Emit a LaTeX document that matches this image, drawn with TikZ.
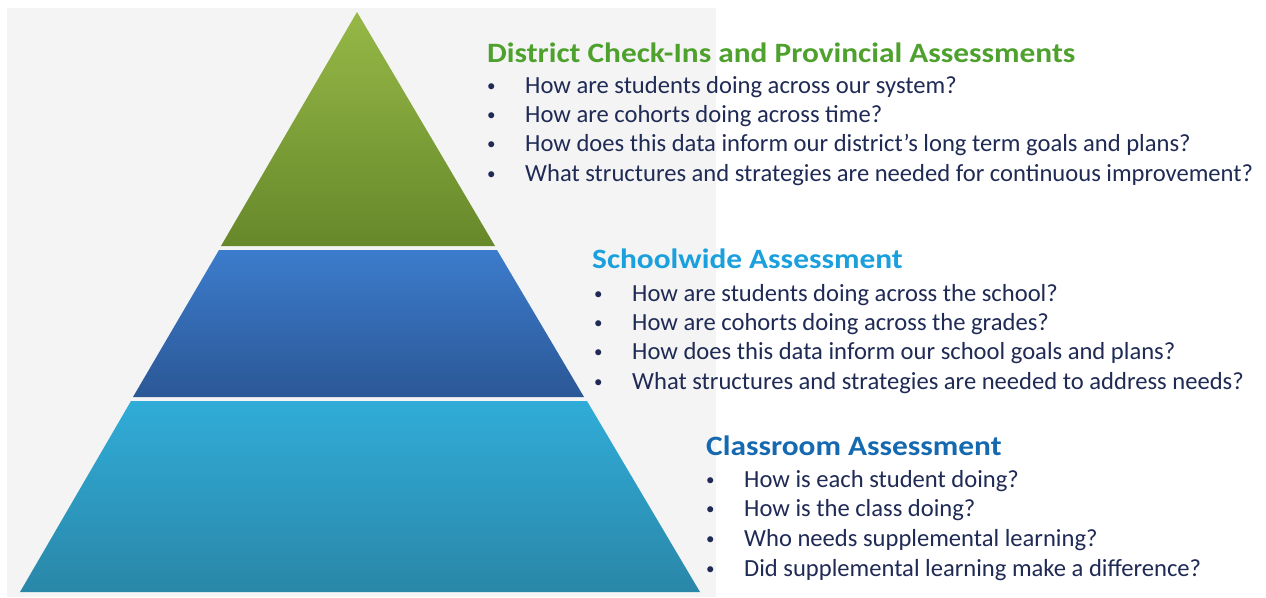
\documentclass[tikz,border=0pt]{standalone}
\usepackage{fontspec}
\setmainfont{Carlito}
\newfontfamily\headfont{Carlito}[FakeStretch=1.12]
\definecolor{bggray}{HTML}{F4F4F4}
\definecolor{greenhead}{HTML}{4FA12E}
\definecolor{skyhead}{HTML}{1AA0DC}
\definecolor{bluehead}{HTML}{1569B0}
\definecolor{navytext}{HTML}{1F2A55}
\definecolor{greentop}{HTML}{96B847}
\definecolor{greenbot}{HTML}{66882A}
\definecolor{bluetop}{HTML}{3C7CCC}
\definecolor{bluebot}{HTML}{2B5796}
\definecolor{tealtop}{HTML}{30ACD8}
\definecolor{tealbot}{HTML}{2A87A8}
\newcommand{\bul}{\makebox[38pt][l]{\raisebox{1.5pt}{\fontsize{17}{17}\selectfont\textbullet}}}
\begin{document}
\begin{tikzpicture}[x=1pt,y=-1pt,
    head/.style={anchor=base west,inner sep=0pt,font=\headfont\fontsize{28}{28}\selectfont\bfseries},
    ques/.style={anchor=base west,inner sep=0pt,text=navytext,font=\fontsize{24.6}{24.6}\selectfont}]
    \useasboundingbox (0,0) rectangle (1266,597);
    \fill[white] (0,0) rectangle (1266,597);
    \fill[bggray] (7,8) rectangle (716,597);
    % Pyramid tiers
    \shade[top color=greentop, bottom color=greenbot] (357,12) -- (495,246) -- (221,246) -- cycle;
    \shade[top color=bluetop, bottom color=bluebot] (219,250) -- (497,250) -- (584,397) -- (133,397) -- cycle;
    \shade[top color=tealtop, bottom color=tealbot] (131,401) -- (587,401) -- (700,592) -- (20,592) -- cycle;
    % District level
    \node[head,text=greenhead] (dhead) at (487,62) {District Check-Ins and Provincial Assessments};
    \node[ques] (d1) at (487,93) {\bul How are students doing across our system?};
    \node[ques] (d2) at (487,122) {\bul How are cohorts doing across time?};
    \node[ques] (d3) at (487,151) {\bul How does this data inform our district’s long term goals and plans?};
    \node[ques] (d4) at (487,181) {\bul What structures and strategies are needed for continuous improvement?};
    % School level
    \node[head,text=skyhead] (shead) at (592,268) {Schoolwide Assessment};
    \node[ques] (s1) at (594,301) {\bul How are students doing across the school?};
    \node[ques] (s2) at (594,330) {\bul How are cohorts doing across the grades?};
    \node[ques] (s3) at (594,359) {\bul How does this data inform our school goals and plans?};
    \node[ques] (s4) at (594,389) {\bul What structures and strategies are needed to address needs?};
    % Classroom level
    \node[head,text=bluehead] (chead) at (706,455) {Classroom Assessment};
    \node[ques] (c1) at (706,487) {\bul How is each student doing?};
    \node[ques] (c2) at (706,516) {\bul How is the class doing?};
    \node[ques] (c3) at (706,546) {\bul Who needs supplemental learning?};
    \node[ques] (c4) at (706,576) {\bul Did supplemental learning make a difference?};
\end{tikzpicture}
\end{document}
